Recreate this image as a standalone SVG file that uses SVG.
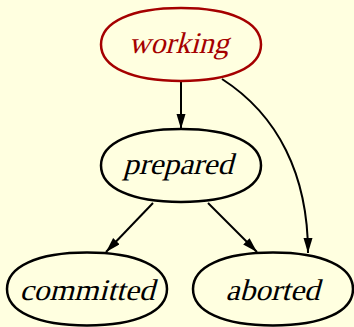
<svg xmlns="http://www.w3.org/2000/svg" xmlns:xlink="http://www.w3.org/1999/xlink" width="354" height="327" viewBox="0 0 354 327">
<style>
.bg{fill:#ffffe0}
.node{fill:none;stroke:#000;stroke-width:2.5}
.red{stroke:#a50000}
.lbl{font-family:"Liberation Serif",serif;font-size:30px;text-anchor:middle;fill:#000}
.lred{fill:#a50000}
.edge{fill:none;stroke:#000;stroke-width:2}
</style>
<defs>
<path id="shape" d="M-80,0 C-80,-22.6 -49.6,-36.5 0,-36.5 C49.6,-36.5 80,-22.6 80,0 C80,22.6 49.6,36.5 0,36.5 C-49.6,36.5 -80,22.6 -80,0Z"/>
<marker id="arr" markerUnits="userSpaceOnUse" markerWidth="16" markerHeight="10" refX="15" refY="4.5" orient="auto">
<path d="M0,0 L15,4.5 L0,9 Z" fill="#000"/>
</marker>
</defs>
<rect class="bg" x="0" y="0" width="354" height="327"/>
<g id="connectors">
<path class="edge" d="M181,81 L181,129" marker-end="url(#arr)"/>
<path class="edge" d="M222,79 C278,115 308,175 308,253" marker-end="url(#arr)"/>
<path class="edge" d="M153,203 L106,252" marker-end="url(#arr)"/>
<path class="edge" d="M208,203 L257,252" marker-end="url(#arr)"/>
</g>
<g id="working">
<use xlink:href="#shape" class="node red" transform="translate(181,44.5)"/>
<text class="lbl lred" transform="translate(178.5,53) skewX(-15)" textLength="100" lengthAdjust="spacingAndGlyphs">working</text>
</g>
<g id="prepared">
<use xlink:href="#shape" class="node" transform="translate(181,165.5)"/>
<text class="lbl" transform="translate(178,174) skewX(-15)" textLength="110" lengthAdjust="spacingAndGlyphs">prepared</text>
</g>
<g id="committed">
<use xlink:href="#shape" class="node" transform="translate(87,289)"/>
<text class="lbl" transform="translate(87,300) skewX(-15)" textLength="135" lengthAdjust="spacingAndGlyphs">committed</text>
</g>
<g id="aborted">
<use xlink:href="#shape" class="node" transform="translate(273,289)"/>
<text class="lbl" transform="translate(272.5,300) skewX(-15)" textLength="94" lengthAdjust="spacingAndGlyphs">aborted</text>
</g>
</svg>
